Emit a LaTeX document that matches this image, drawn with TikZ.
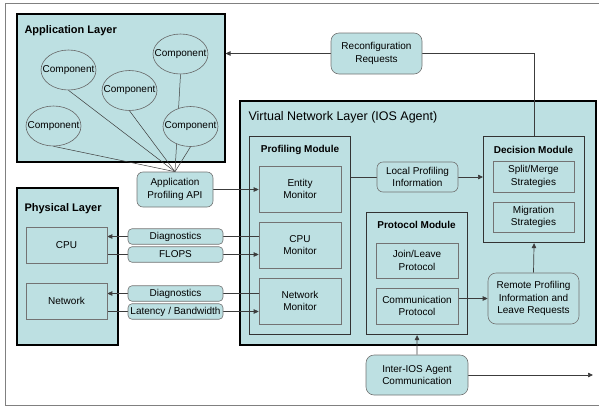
\documentclass[tikz,border=0pt]{standalone}
\usepackage{fontspec}
\setmainfont{Liberation Sans}
\usetikzlibrary{shapes.geometric,arrows.meta}
\definecolor{tealbg}{RGB}{189,224,226}
\definecolor{wiregray}{RGB}{60,60,60}
\pgfdeclarelayer{bg}
\pgfdeclarelayer{wires}
\pgfsetlayers{bg,wires,main}

\begin{document}
\begin{tikzpicture}[x=1pt, y=-1pt,
  every node/.style={font=\fontsize{10}{12.5}\selectfont},
  layerbox/.style={draw=black, line width=1.5pt, fill=tealbg, anchor=north west, inner sep=0pt},
  modbox/.style={draw=black!80, line width=1.1pt, fill=tealbg, anchor=north west, inner sep=0pt},
  unitbox/.style={draw=black!55, line width=0.6pt, fill=tealbg, align=center, inner sep=1pt},
  tagbox/.style={unitbox, rounded corners=6pt},
  comp/.style={ellipse, draw=black!60, line width=0.6pt, fill=tealbg, minimum width=55pt, minimum height=40pt, inner xsep=-8pt, inner ysep=0pt},
  wire/.style={draw=wiregray, line width=0.7pt},
  arr/.style={wire, -{Triangle[length=5pt,width=4.5pt]}},
  modtitle/.style={font=\fontsize{10}{12}\selectfont\bfseries}]
  \useasboundingbox (0,0) rectangle (599,410);

  % 外框与各层
  \begin{pgfonlayer}{bg}
    \draw[black!50, line width=0.8pt] (5,3) rectangle (620,405);
    \node[layerbox, minimum width=208pt, minimum height=148pt] (app) at (16,13) {};
    \node[layerbox, minimum width=101pt, minimum height=157pt] (phys) at (16,187) {};
    \node[layerbox, minimum width=356pt, minimum height=244pt] (vnl) at (239,100) {};
    \node[modbox, minimum width=101pt, minimum height=198pt] (profiling) at (249,136) {};
    \node[modbox, minimum width=101pt, minimum height=106pt] (decision) at (483,136) {};
    \node[modbox, minimum width=101pt, minimum height=122pt] (protocol) at (366,212) {};
  \end{pgfonlayer}

  % 标题
  \node[anchor=west, font=\fontsize{11}{13}\selectfont\bfseries] (apptitle) at (21,31) {Application Layer};
  \node[anchor=west, font=\fontsize{11}{13}\selectfont\bfseries] (phystitle) at (21,209) {Physical Layer};
  \node[anchor=west, font=\fontsize{12.5}{14}\selectfont] (vnltitle) at (245,117) {Virtual Network Layer (IOS Agent)};
  \node[modtitle] (proftitle) at (300,150) {Profiling Module};
  \node[modtitle] (dectitle) at (533.5,150) {Decision Module};
  \node[modtitle] (prottitle) at (416.5,225) {Protocol Module};

  % 应用层组件
  \node[comp] (comp1) at (68.5,70) {Component};
  \node[comp] (comp2) at (129.5,90.5) {Component};
  \node[comp] (comp3) at (180.5,54) {Component};
  \node[comp] (comp4) at (53.5,126) {Component};
  \node[comp] (comp5) at (190.5,126.5) {Component};

  % 圆角标签
  \node[tagbox, minimum width=91pt, minimum height=41pt, rounded corners=8pt] (reconf) at (376.5,53.5) {Reconfiguration\\Requests};
  \node[tagbox, minimum width=76pt, minimum height=35pt] (api) at (175,189.5) {Application\\Profiling API};
  \node[tagbox, minimum width=81pt, minimum height=30pt] (local) at (417.5,177) {Local Profiling\\Information};
  \node[tagbox, minimum width=91pt, minimum height=51pt, rounded corners=8pt] (remote) at (533.5,298.5) {Remote Profiling\\Information and\\Leave Requests};
  \node[tagbox, minimum width=102pt, minimum height=40pt, rounded corners=8pt] (inter) at (417,375) {Inter-IOS Agent\\Communication};
  \node[tagbox, minimum width=95pt, minimum height=15.5pt, inner xsep=0.5pt, rounded corners=4pt] (diag1) at (175.5,236.5) {Diagnostics};
  \node[tagbox, minimum width=95pt, minimum height=15.5pt, inner xsep=0.5pt, rounded corners=4pt] (flops) at (175.5,254.5) {FLOPS};
  \node[tagbox, minimum width=95pt, minimum height=15.5pt, inner xsep=0.5pt, rounded corners=4pt] (diag2) at (175.5,293.5) {Diagnostics};
  \node[tagbox, minimum width=95pt, minimum height=15.5pt, inner xsep=0.5pt, rounded corners=4pt] (lat) at (175.5,311.5) {Latency / Bandwidth};

  % 内部方框
  \node[unitbox, minimum width=82pt, minimum height=46pt] (entity) at (300,189) {Entity\\Monitor};
  \node[unitbox, minimum width=82pt, minimum height=46pt] (cpumon) at (300,245) {CPU\\Monitor};
  \node[unitbox, minimum width=82pt, minimum height=46pt] (netmon) at (300,301) {Network\\Monitor};
  \node[unitbox, minimum width=81pt, minimum height=31pt] (split) at (533.5,176.5) {Split/Merge\\Strategies};
  \node[unitbox, minimum width=81pt, minimum height=30pt] (migr) at (533.5,217) {Migration\\Strategies};
  \node[unitbox, minimum width=82pt, minimum height=35pt] (join) at (417,260.5) {Join/Leave\\Protocol};
  \node[unitbox, minimum width=82pt, minimum height=36pt] (comm) at (417,306) {Communication\\Protocol};
  \node[unitbox, minimum width=81pt, minimum height=36pt] (cpu) at (66.5,245) {CPU};
  \node[unitbox, minimum width=81pt, minimum height=36pt] (net) at (66.5,301) {Network};

  \coordinate (outp) at (593,375);

  % 连线
  \begin{pgfonlayer}{wires}
    \foreach \c in {comp1,comp2,comp3,comp4,comp5}
      \draw[wire, line width=0.5pt] (\c.south) -- (api.north);
    \draw[arr] (api.east) -- (api.east -| entity.west);
    \draw[wire] (decision.north) |- (reconf.east);
    \draw[arr] (reconf.west) -- (reconf.west -| app.east);
    \draw[wire] (local.west -| profiling.east) -- (local.west);
    \draw[arr] (local.east) -- (local.east -| decision.west);
    \draw[arr] (remote.west -| comm.east) -- (remote.west);
    \draw[arr] (remote.north) -- (decision.south);
    \draw[arr] (inter.north) -- (protocol.south);
    \draw[arr] (inter.east) -- (outp);
    % 物理层与监视器
    \draw[wire] (cpumon.west |- diag1) -- (diag1.east);
    \draw[arr] (diag1.west) -- (diag1.west -| cpu.east);
    \draw[wire] (cpu.east |- flops) -- (flops.west);
    \draw[arr] (flops.east) -- (flops.east -| cpumon.west);
    \draw[wire] (netmon.west |- diag2) -- (diag2.east);
    \draw[arr] (diag2.west) -- (diag2.west -| net.east);
    \draw[wire] (net.east |- lat) -- (lat.west);
    \draw[arr] (lat.east) -- (lat.east -| netmon.west);
  \end{pgfonlayer}
\end{tikzpicture}
\end{document}
